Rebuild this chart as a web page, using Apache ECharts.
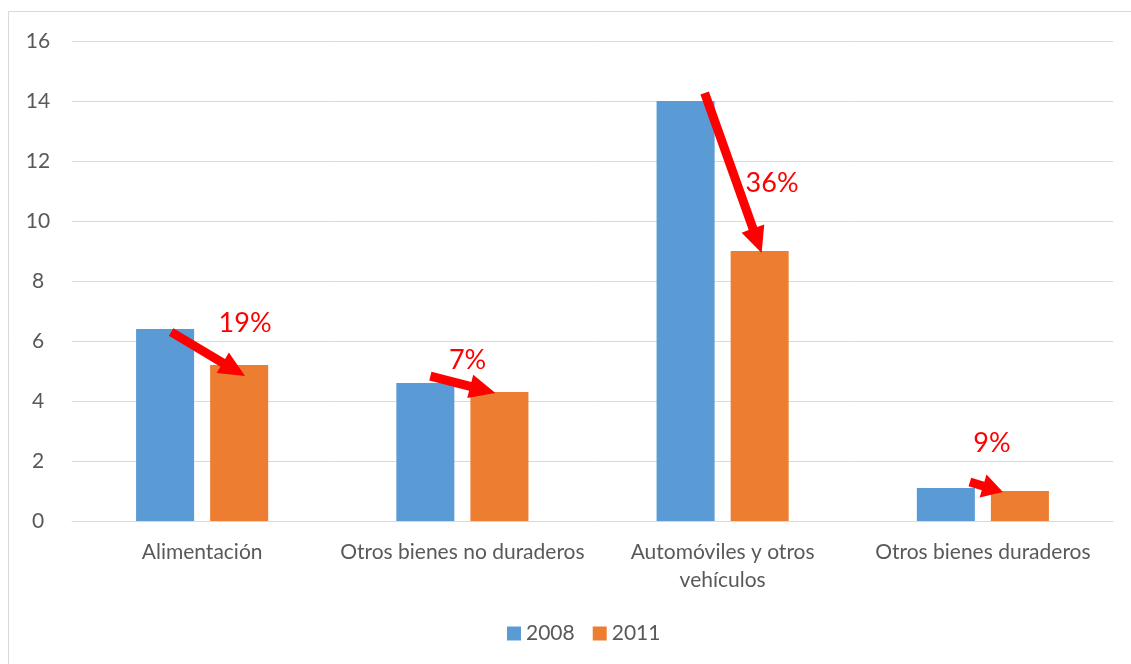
<!DOCTYPE html>
<html>
<head>
<meta charset="utf-8">
<script src="https://cdn.jsdelivr.net/npm/echarts@6/dist/echarts.min.js"></script>
<style>html,body{margin:0;padding:0;background:#fff}#c{width:1131px;height:664px}</style>
</head>
<body>
<div id="c"></div>
<script>
var categories = ['Alimentación', 'Otros bienes no duraderos', 'Automóviles y otros\nvehículos', 'Otros bienes duraderos'];
var values2008 = [6.4, 4.6, 14, 1.1];
var values2011 = [5.2, 4.3, 9, 1.0];
var yTicks = [0, 2, 4, 6, 8, 10, 12, 14, 16];
// arrow annotations: start value (near 2008 bar top), end value (near 2011 bar top), label text, label value
var arrowFrom = [6.3, 4.83, 14.27, 1.3];
var arrowTo = [4.83, 4.27, 8.93, 0.97];
var pctLabels = ['19%', '7%', '36%', '9%'];
var pctLabelValues = [6.6, 5.37, 11.27, 2.6];

var FONT = 'Lato, "Liberation Sans", sans-serif';
// horizontal offsets as fraction of category band width
var fromDx = [-0.119, -0.123, -0.069, -0.05];
var toDx = [0.165, 0.127, 0.15, 0.077];
var labDx = [0.165, 0.02, 0.19, 0.035];

var chart = echarts.init(document.getElementById('c'));
var arrowData = categories.map(function (c, i) { return [i, arrowFrom[i], arrowTo[i]]; });
var labelData = categories.map(function (c, i) { return [i, pctLabelValues[i]]; });

function arrowShape(x1, y1, x2, y2) {
  var dx = x2 - x1, dy = y2 - y1;
  var len = Math.sqrt(dx * dx + dy * dy);
  var ux = dx / len, uy = dy / len;
  var nx = -uy, ny = ux;
  var headLen = Math.min(26, len * 0.6), headW = 12, shaftW = 4.5;
  var bx = x2 - ux * headLen, by = y2 - uy * headLen;
  return [
    [x1 + nx * shaftW, y1 + ny * shaftW],
    [bx + nx * shaftW, by + ny * shaftW],
    [bx + nx * headW, by + ny * headW],
    [x2, y2],
    [bx - nx * headW, by - ny * headW],
    [bx - nx * shaftW, by - ny * shaftW],
    [x1 - nx * shaftW, y1 - ny * shaftW]
  ];
}

chart.setOption({
  animation: false,
  backgroundColor: '#fff',
  graphic: [{
    type: 'rect', shape: { x: 8.5, y: 11.5, width: 1200, height: 700 },
    style: { fill: 'none', stroke: '#d9d9d9', lineWidth: 1 }, silent: true
  }],
  grid: { left: 72, right: 18, top: 41, bottom: 143 },
  legend: {
    bottom: 15, left: 502,
    itemWidth: 14, itemHeight: 14, itemGap: 18,
    icon: 'rect',
    textStyle: { fontFamily: FONT, fontSize: 21, color: '#595959' },
    data: ['2008', '2011']
  },
  xAxis: {
    type: 'category', data: categories,
    axisLine: { show: true, lineStyle: { color: '#d9d9d9', width: 1 } },
    axisTick: { show: false },
    axisLabel: { fontFamily: FONT, fontSize: 21, color: '#595959', margin: 17, lineHeight: 28, interval: 0 }
  },
  yAxis: {
    type: 'value', min: yTicks[0], max: yTicks[yTicks.length - 1], interval: 2,
    axisLine: { show: false }, axisTick: { show: false },
    axisLabel: { fontFamily: FONT, fontSize: 21, color: '#595959', margin: 34, align: 'center' },
    splitLine: { lineStyle: { color: '#d9d9d9', width: 1 } }
  },
  series: [
    { name: '2008', type: 'bar', data: values2008, barWidth: '22.3%', barGap: '27.6%', itemStyle: { color: '#5B9BD5' } },
    { name: '2011', type: 'bar', data: values2011, barWidth: '22.3%', barGap: '27.6%', itemStyle: { color: '#ED7D31' } },
    {
      type: 'custom', name: 'arrows', data: arrowData, z: 10, silent: true,
      renderItem: function (params, api) {
        var i = api.value(0);
        var band = api.size([1, 0])[0];
        var p1 = api.coord([i, api.value(1)]);
        var p2 = api.coord([i, api.value(2)]);
        var x1 = p1[0] + fromDx[i] * band, y1 = p1[1];
        var x2 = p2[0] + toDx[i] * band, y2 = p2[1];
        return { type: 'polygon', shape: { points: arrowShape(x1, y1, x2, y2) }, style: { fill: '#FF0000' } };
      }
    },
    {
      type: 'custom', name: 'pct', data: labelData, z: 11, silent: true,
      renderItem: function (params, api) {
        var i = api.value(0);
        var band = api.size([1, 0])[0];
        var p = api.coord([i, api.value(1)]);
        return {
          type: 'text',
          style: {
            x: p[0] + labDx[i] * band, y: p[1], text: pctLabels[i],
            fill: '#FF0000', font: '27px ' + FONT, align: 'center', verticalAlign: 'middle'
          }
        };
      }
    }
  ]
});
</script>
</body>
</html>
